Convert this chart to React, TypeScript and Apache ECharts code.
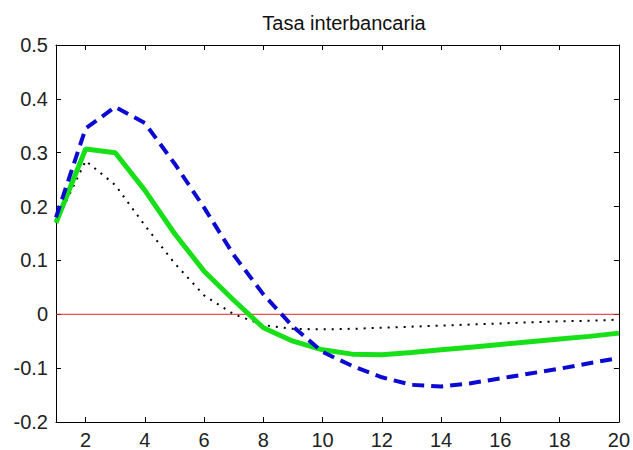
import React, { useEffect, useRef } from "react";
import * as echarts from "echarts";

const titleText = "Tasa interbancaria";
const periods = [1, 2, 3, 4, 5, 6, 7, 8, 9, 10, 11, 12, 13, 14, 15, 16, 17, 18, 19, 20];
const blueDashed = [0.18, 0.345, 0.385, 0.355, 0.28, 0.198, 0.11, 0.037, -0.023, -0.07, -0.096, -0.117, -0.131, -0.134, -0.128, -0.119, -0.11, -0.101, -0.091, -0.081];
const greenSolid = [0.17, 0.307, 0.3, 0.23, 0.15, 0.08, 0.026, -0.025, -0.05, -0.066, -0.074, -0.075, -0.071, -0.066, -0.061, -0.056, -0.051, -0.046, -0.041, -0.035];
const blackDotted = [0.17, 0.285, 0.24, 0.165, 0.095, 0.035, 0.0, -0.02, -0.027, -0.028, -0.027, -0.025, -0.023, -0.021, -0.019, -0.017, -0.015, -0.013, -0.012, -0.01];
const zeroLineX = [1, 20];
const zeroLineY = [0, 0];
const xTickValues = [2, 4, 6, 8, 10, 12, 14, 16, 18, 20];
const yMin = -0.2;
const yMax = 0.5;
const yStep = 0.1;

const FONT = "Liberation Sans";

export default function App() {
  const ref = useRef<HTMLDivElement>(null);
  useEffect(() => {
    if (!ref.current) return;
    const chart = echarts.init(ref.current, null, { renderer: "svg" });
    const pair = (ys: number[]) => periods.map((p, i) => [p, ys[i]]);
    const tickStyle = { show: true, inside: true, length: 5, lineStyle: { color: "#000", width: 1 } };
    const axisLine = { show: true, onZero: false, lineStyle: { color: "#000", width: 1 } };
    chart.setOption({
      animation: false,
      backgroundColor: "#fff",
      title: {
        text: titleText,
        left: 339,
        textAlign: "center",
        top: 8,
        textStyle: { fontFamily: FONT, fontSize: 20, fontWeight: "normal", color: "#111" },
      },
      grid: { left: 56, right: 13, top: 45, bottom: 28 },
      xAxis: [
        {
          type: "value",
          min: 1,
          max: 20,
          position: "bottom",
          axisLine,
          axisTick: { ...tickStyle, customValues: xTickValues },
          axisLabel: { customValues: xTickValues, fontFamily: FONT, fontSize: 20, color: "#222", margin: 8 },
          splitLine: { show: false },
        },
        {
          type: "value",
          min: 1,
          max: 20,
          position: "top",
          axisLine,
          axisTick: { ...tickStyle, customValues: xTickValues },
          axisLabel: { show: false },
          splitLine: { show: false },
        },
      ],
      yAxis: [
        {
          type: "value",
          min: yMin,
          max: yMax,
          interval: yStep,
          position: "left",
          axisLine,
          axisTick: tickStyle,
          axisLabel: {
            fontFamily: FONT,
            fontSize: 20,
            color: "#222",
            margin: 8,
            formatter: (v: number) => String(Math.round(v * 10) / 10),
          },
          splitLine: { show: false },
        },
        {
          type: "value",
          min: yMin,
          max: yMax,
          interval: yStep,
          position: "right",
          axisLine,
          axisTick: tickStyle,
          axisLabel: { show: false },
          splitLine: { show: false },
        },
      ],
      series: [
        {
          type: "line",
          data: zeroLineX.map((x, i) => [x, zeroLineY[i]]),
          showSymbol: false,
          lineStyle: { color: "#d82828", width: 1 },
          z: 1,
        },
        {
          type: "line",
          data: pair(blackDotted),
          showSymbol: false,
          lineStyle: { color: "#000", width: 2, type: [2, 6] },
          z: 2,
        },
        {
          type: "line",
          data: pair(greenSolid),
          showSymbol: false,
          lineStyle: { color: "#18e018", width: 5 },
          z: 3,
        },
        {
          type: "line",
          data: pair(blueDashed),
          showSymbol: false,
          lineStyle: { color: "#0a0ad0", width: 4, type: [12, 7] },
          z: 4,
        },
      ],
    });
    return () => chart.dispose();
  }, []);
  return <div ref={ref} style={{ width: 633, height: 450, position: "absolute", left: 0, top: 0 }} />;
}
